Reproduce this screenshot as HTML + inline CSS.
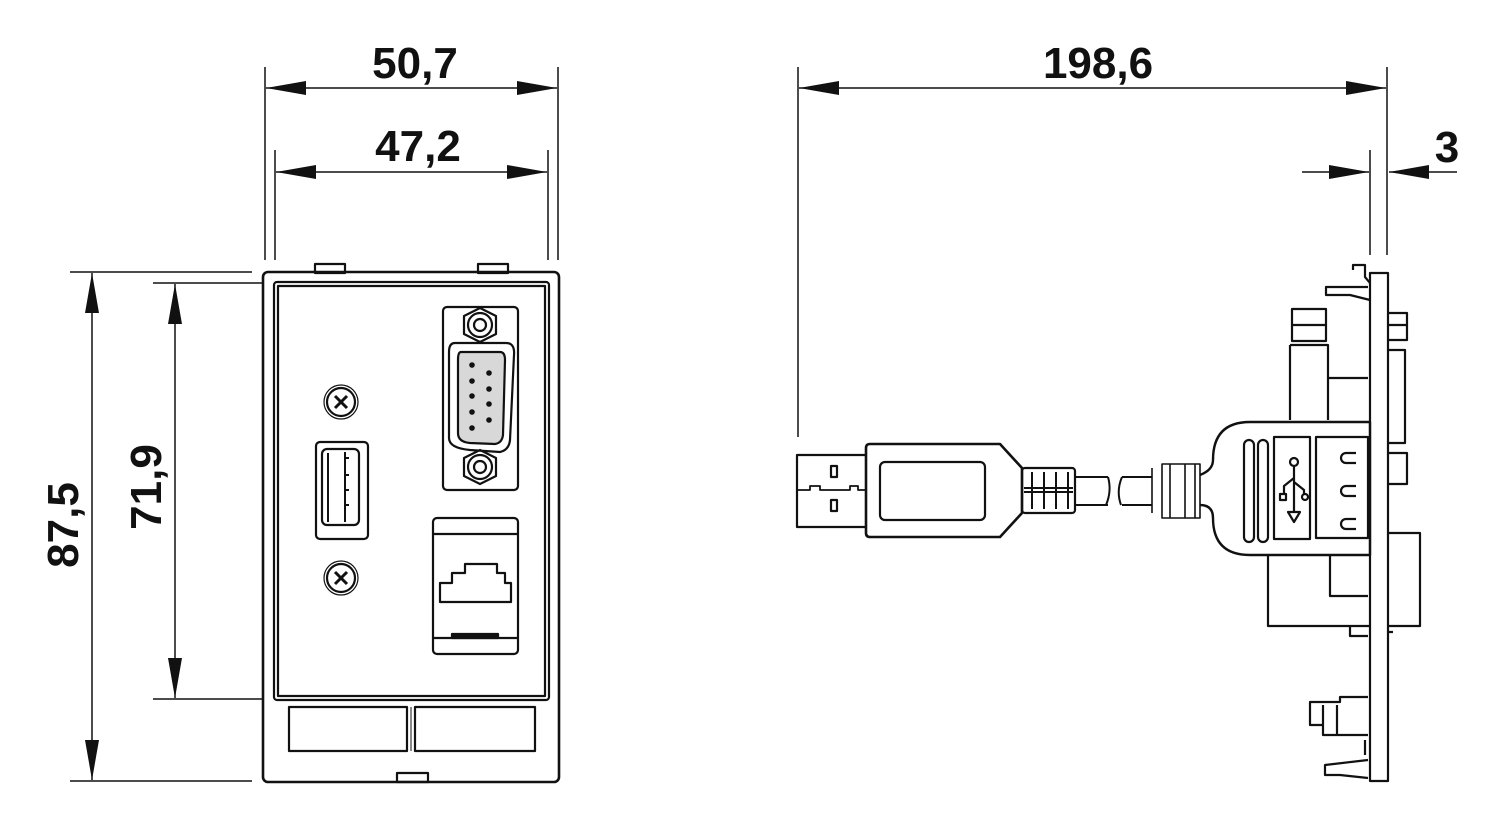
<!DOCTYPE html>
<html><head><style>body{margin:0;background:#fff}svg{display:block}text{font-family:"Liberation Sans",sans-serif;font-weight:bold;font-size:44px;fill:#111}</style></head><body>
<svg width="1500" height="820" viewBox="0 0 1500 820" fill="none" stroke="#111" stroke-width="2.2" stroke-linejoin="round">
<defs><marker id="a" viewBox="0 0 40 14" refX="40" refY="7" markerWidth="40" markerHeight="14" markerUnits="userSpaceOnUse" orient="auto-start-reverse"><path d="M0,0 L40,7 L0,14 Z" fill="#111" stroke="none"/></marker></defs>
<g stroke-width="1.5">
<line x1="265" y1="67" x2="265" y2="260"/><line x1="558" y1="67" x2="558" y2="260"/>
<line x1="266" y1="88" x2="557" y2="88" marker-start="url(#a)" marker-end="url(#a)"/>
<line x1="275" y1="150" x2="275" y2="260"/><line x1="548" y1="150" x2="548" y2="260"/>
<line x1="276" y1="172" x2="547" y2="172" marker-start="url(#a)" marker-end="url(#a)"/>
<line x1="70" y1="272" x2="252" y2="272"/><line x1="70" y1="781" x2="252" y2="781"/>
<line x1="92" y1="273" x2="92" y2="780" marker-start="url(#a)" marker-end="url(#a)"/>
<line x1="153" y1="283" x2="262" y2="283"/><line x1="153" y1="699" x2="262" y2="699"/>
<line x1="175" y1="284" x2="175" y2="698" marker-start="url(#a)" marker-end="url(#a)"/>
<line x1="798" y1="67" x2="798" y2="437"/><line x1="1387" y1="67" x2="1387" y2="255"/>
<line x1="799" y1="88" x2="1386" y2="88" marker-start="url(#a)" marker-end="url(#a)"/>
<line x1="1370" y1="150" x2="1370" y2="255"/>
<line x1="1302" y1="172" x2="1369" y2="172" marker-end="url(#a)"/>
<line x1="1457" y1="172" x2="1389" y2="172" marker-end="url(#a)"/>
</g>
<g stroke="none">
<text x="415" y="78" text-anchor="middle">50,7</text>
<text x="418" y="161" text-anchor="middle">47,2</text>
<text x="1098" y="78" text-anchor="middle">198,6</text>
<text x="1447" y="162" text-anchor="middle">3</text>
<text transform="translate(78,525) rotate(-90)" text-anchor="middle">87,5</text>
<text transform="translate(161,487) rotate(-90)" text-anchor="middle">71,9</text>
</g>
<rect x="315" y="264" width="30" height="9"/><rect x="478" y="264" width="30" height="9"/>
<rect x="263" y="272" width="296" height="510" rx="5" stroke-width="2.6"/>
<rect x="274" y="282" width="275" height="418" rx="3"/>
<rect x="278" y="286" width="267" height="410"/>
<rect x="289" y="707" width="118" height="44"/><rect x="415" y="707" width="120" height="44"/>
<line x1="411" y1="707" x2="411" y2="751" stroke-width="1"/>
<rect x="397" y="773" width="31" height="9"/>
<g><circle cx="341" cy="402" r="17" stroke-width="1.2"/><circle cx="341" cy="402" r="14"/><path d="M335,396 l12,12 M347,396 l-12,12" stroke-width="3"/></g>
<g><circle cx="341" cy="578" r="17" stroke-width="1.2"/><circle cx="341" cy="578" r="14"/><path d="M335,572 l12,12 M347,572 l-12,12" stroke-width="3"/></g>
<rect x="316" y="442" width="52" height="97" rx="4"/>
<rect x="322" y="449" width="37" height="76" rx="5"/>
<path d="M328,453 V522 M345,452 V522" stroke-width="2"/><path d="M345,458 h4 M345,475 h4 M345,490 h4 M345,505 h4" stroke-width="2"/>
<rect x="443" y="307" width="75" height="183" rx="4"/>
<g><polygon points="480,308 496,316 496,334 480,342 464,334 464,316"/><circle cx="480" cy="325" r="12"/><circle cx="480" cy="325" r="6"/></g>
<g><polygon points="480,450 496,458 496,476 480,484 464,476 464,458"/><circle cx="480" cy="467" r="12"/><circle cx="480" cy="467" r="6"/></g>
<path d="M455,343 H506 Q515,343 514,355 L510,440 Q509,450 500,452 L470,450 Q449,448 449,438 L449,352 Q449,343 455,343 Z"/>
<path d="M461,352 H500 Q505,352 505,360 L503,435 Q502,443 495,444 L470,443 Q458,442 458,433 L458,360 Q458,352 461,352 Z" fill="#d8d8d8"/>
<g fill="#111" stroke="none"><circle cx="472" cy="365" r="2.8"/><circle cx="472" cy="381" r="2.8"/><circle cx="472" cy="396" r="2.8"/><circle cx="472" cy="412" r="2.8"/><circle cx="472" cy="428" r="2.8"/><circle cx="489" cy="373" r="2.8"/><circle cx="489" cy="389" r="2.8"/><circle cx="489" cy="404" r="2.8"/><circle cx="489" cy="420" r="2.8"/></g>
<rect x="433" y="518" width="85" height="136" rx="4"/>
<line x1="433" y1="534" x2="518" y2="534"/><line x1="433" y1="638" x2="518" y2="638"/>
<polygon points="440,577 440,596 511,596 511,577 505,577 505,567 497,567 497,558 465,558 465,567 452,567 452,577" transform="translate(0,6)"/>
<rect x="452" y="634" width="46" height="4" fill="#111"/>
<path d="M866,455 H797 V527 H866"/><path d="M797,490 H810 V486 H820 V490 H850 V486 H858 V490 H866" stroke-width="1.8"/>
<rect x="831" y="466" width="6" height="11"/><rect x="831" y="500" width="6" height="11"/>
<path d="M870,444 H1000 L1022,468 V513 L1000,537 H870 Q866,537 866,533 V448 Q866,444 870,444 Z" stroke-width="2.6"/>
<rect x="880" y="462" width="105" height="58" rx="5"/>
<rect x="1022" y="468" width="53" height="45" rx="3"/>
<path d="M1024,488 H1073 M1024,492 H1073" stroke-width="2"/>
<path d="M1032,472 V509 M1044,472 V509 M1056,472 V509 M1068,472 V509" stroke-width="2"/>
<path d="M1075,477 H1108 M1075,505 H1108 M1108,477 Q1112,491 1106,505" stroke-width="2"/>
<path d="M1122,477 H1152 M1122,505 H1152 M1122,477 Q1116,491 1121,505" stroke-width="2"/>
<path d="M1152,468 V513 M1162,464 H1200 V518 H1162 Z M1170,464 V518 M1185,464 V518 M1195,464 V518" stroke-width="1.6"/>
<path d="M1200,475 Q1213,470 1213,460 Q1213,422 1250,422 H1370 V555 H1250 Q1213,555 1213,518 Q1213,505 1200,505" stroke-width="2.4"/>
<rect x="1244" y="440" width="10" height="102" rx="5"/><rect x="1258" y="440" width="10" height="102" rx="5"/>
<rect x="1274" y="437" width="36" height="102"/>
<path d="M1316,437 H1368 V538 H1316 Z"/>
<circle cx="1294" cy="462" r="4"/><path d="M1294,466 V512 M1294,478 l-10,8 v8 M1294,482 l10,8 v5"/><rect x="1280" y="494" width="6" height="6"/><circle cx="1305" cy="497" r="3"/><path d="M1288,512 h12 l-6,10 z"/>
<path d="M1356,453 h-10 a5,5 0 0 0 0,10 h10 M1356,486 h-10 a5,5 0 0 0 0,10 h10 M1356,519 h-10 a5,5 0 0 0 0,10 h10"/>
<rect x="1370" y="273" width="18" height="508"/>
<path d="M1353,270 V265 H1365 V277 L1370,283 M1370,300 L1350,295 H1326 V287 H1368"/>
<rect x="1292" y="309" width="34" height="32"/><path d="M1292,325 H1326"/>
<path d="M1290,345 V420 M1290,345 H1328 V420 M1328,378 H1368"/>
<path d="M1388,313 H1407 V340 H1388 M1388,325 H1407 M1388,350 H1405 V443 H1388 M1388,453 H1407 V484 H1388"/>
<path d="M1268,555 V626 H1370 M1330,555 V596 H1368 M1388,533 H1420 V626 H1388"/>
<path d="M1350,626 V636 H1368 M1388,632 H1393"/>
<path d="M1368,697 H1340 V702 H1310 V725 H1323 V735 H1368 M1323,705 V735 M1337,705 V735 M1365,740 V755 M1368,760 L1325,765 V775 H1340 L1368,778"/>
</svg>
</body></html>
